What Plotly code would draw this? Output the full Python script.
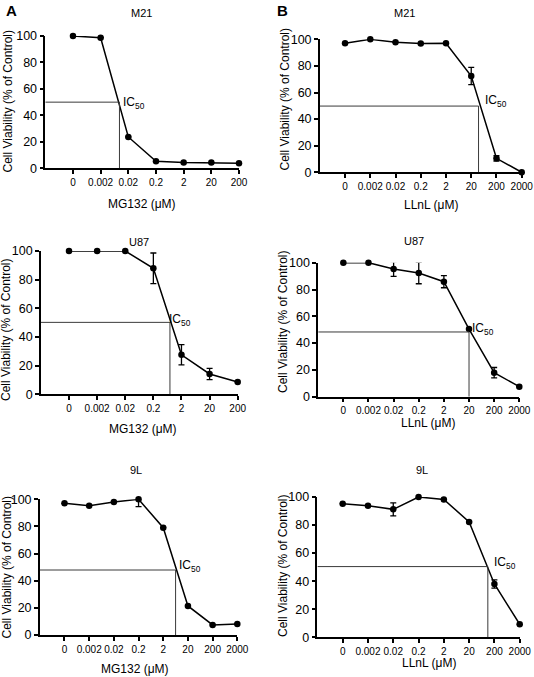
import plotly.graph_objects as go

W, H = 534, 677
FONT = "Arial, Liberation Sans, sans-serif"

# ---------------- data ----------------
mg_labels_7 = ["0", "0.002", "0.02", "0.2", "2", "20", "200"]
mg_labels_8 = ["0", "0.002", "0.02", "0.2", "2", "20", "200", "2000"]
ll_labels = ["0", "0.002", "0.02", "0.2", "2", "20", "200", "2000"]

# Panel A (MG132)
a_m21 = [100, 98.7, 23.7, 5.3, 4.3, 4.3, 3.8]
a_m21_err = [0, 0, 0, 0, 0, 0, 0]
a_u87 = [100, 100, 100, 87.9, 27.6, 14.2, 8.6]
a_u87_err = [0, 0, 0, 10.7, 7.0, 3.9, 0]
a_9l = [97, 95.3, 98, 100, 79.1, 21.4, 7.4, 8.1]
a_9l_err = [0, 0, 0, 5.4, 0, 0, 0, 0]

# Panel B (LLnL)
b_m21 = [97, 100, 97.7, 96.8, 97, 72.4, 10.5, 0]
b_m21_err = [0, 0, 0, 0, 0, 6.5, 2.0, 0]
b_u87 = [100, 100, 95.3, 92.3, 85.8, 50.5, 17.9, 7.5]
b_u87_err = [0, 0, 5.5, 8.0, 4.5, 0, 3.9, 0]
b_9l = [95.2, 93.8, 91.2, 100, 98.3, 82.2, 38.0, 9.3]
b_9l_err = [0, 0, 4.6, 0, 0, 0, 3.0, 0]

# IC50 guide positions (x in category-index units, y in % of control)
ic50_x = {"A1": 1.68, "A2": 3.59, "A3": 4.5, "B1": 5.29, "B2": 5.0, "B3": 5.74}
ic50_y = {"A1": 50.0, "A2": 50.2, "A3": 47.9, "B1": 49.8, "B2": 48.3, "B3": 50.4}

titles = {"A1": "M21", "A2": "U87", "A3": "9L", "B1": "M21", "B2": "U87", "B3": "9L"}
xtitles = {"A1": "MG132 (μM)", "A2": "MG132 (μM)", "A3": "MG132 (μM)",
           "B1": "LLnL (μM)", "B2": "LLnL (μM)", "B3": "LLnL (μM)"}
ytitle = "Cell Viability (% of Control)"

panels = {
    "A1": (a_m21, a_m21_err, mg_labels_7),
    "A2": (a_u87, a_u87_err, mg_labels_7),
    "A3": (a_9l, a_9l_err, mg_labels_8),
    "B1": (b_m21, b_m21_err, ll_labels),
    "B2": (b_u87, b_u87_err, ll_labels),
    "B3": (b_9l, b_9l_err, ll_labels),
}

# ---------------- layout geometry (pixels) ----------------
# x-left, x-right (of axis), y of 0, y of 100
geom = {
    "A1": (45.3, 239.0, 168.3, 36.0),
    "A2": (40.9, 237.7, 394.3, 251.0),
    "A3": (39.8, 237.3, 635.0, 499.3),
    "B1": (319.8, 521.7, 172.3, 39.3),
    "B2": (318.2, 519.3, 396.7, 262.7),
    "B3": (317.4, 519.7, 637.3, 497.0),
}
# text positions (pixels)
title_pos = {"A1": (141.5, 13.5), "A2": (138.5, 242), "A3": (136, 469.5),
             "B1": (404, 13.5), "B2": (414, 241.5), "B3": (422, 469.5)}
xtitle_pos = {"A1": (142, 204), "A2": (142.5, 429), "A3": (135, 669),
              "B1": (431, 205), "B2": (428, 423), "B3": (429.5, 662.5)}
ytitle_pos = {"A1": (8, 101.5), "A2": (6, 330), "A3": (6, 567.5),
              "B1": (285, 99.5), "B2": (283, 322), "B3": (283, 566)}
ic_pos = {"A1": (120.7, 102.5), "A2": (166.7, 320), "A3": (177.3, 565.5),
          "B1": (483, 100.5), "B2": (470, 329), "B3": (491.7, 563)}


def px(x):
    return x / W


def py(y):
    return 1 - y / H


fig = go.Figure()
annotations = []
shapes = []

for i, key in enumerate(["A1", "A2", "A3", "B1", "B2", "B3"]):
    n = i + 1
    xa = "x" if n == 1 else f"x{n}"
    ya = "y" if n == 1 else f"y{n}"
    vals, errs, labels = panels[key]
    xs = list(range(len(vals)))
    fig.add_trace(go.Scatter(
        x=xs, y=vals, xaxis=xa, yaxis=ya, mode="lines+markers",
        line=dict(color="black", width=1.5),
        marker=dict(color="black", size=6.5),
        error_y=dict(type="data", array=errs, visible=True,
                     color="black", thickness=1.3, width=3),
        cliponaxis=False, showlegend=False, hoverinfo="x+y",
    ))
    xl, xr, y0, y100 = geom[key]
    last = len(vals) - 1
    fig.update_layout(**{
        ("xaxis" if n == 1 else f"xaxis{n}"): dict(
            domain=[px(xl), px(xr)], range=[-1, last], anchor=ya,
            tickmode="array", tickvals=xs, ticktext=labels, tickangle=0,
            showline=True, linecolor="black", linewidth=1.5,
            ticks="outside", ticklen=4, tickwidth=1.5, tickcolor="black",
            showgrid=False, zeroline=False, automargin=False,
            tickfont=dict(family=FONT, size=10, color="black"),
        ),
        ("yaxis" if n == 1 else f"yaxis{n}"): dict(
            domain=[py(y0), py(y100)], range=[0, 100], anchor=xa,
            tickmode="linear", tick0=0, dtick=20,
            showline=True, linecolor="black", linewidth=1.5,
            ticks="outside", ticklen=4, tickwidth=1.5, tickcolor="black",
            showgrid=False, zeroline=False, automargin=False,
            tickfont=dict(family=FONT, size=12.5, color="black"),
        ),
    })
    # IC50 guide lines
    cx, cy = ic50_x[key], ic50_y[key]
    shapes.append(dict(type="line", xref=xa, yref=ya, x0=-1, x1=cx, y0=cy, y1=cy,
                       line=dict(color="#3a3a3a", width=1)))
    shapes.append(dict(type="line", xref=xa, yref=ya, x0=cx, x1=cx, y0=0, y1=cy,
                       line=dict(color="#3a3a3a", width=1)))
    # texts
    tx, ty = title_pos[key]
    annotations.append(dict(text=titles[key], x=px(tx), y=py(ty), xref="paper", yref="paper",
                            showarrow=False, xanchor="center", yanchor="middle",
                            font=dict(family=FONT, size=11, color="black")))
    tx, ty = xtitle_pos[key]
    annotations.append(dict(text=xtitles[key], x=px(tx), y=py(ty), xref="paper", yref="paper",
                            showarrow=False, xanchor="center", yanchor="middle",
                            font=dict(family=FONT, size=12, color="black")))
    tx, ty = ytitle_pos[key]
    annotations.append(dict(text=ytitle, x=px(tx), y=py(ty), xref="paper", yref="paper",
                            showarrow=False, xanchor="center", yanchor="middle", textangle=-90,
                            font=dict(family=FONT, size=12, color="black")))
    tx, ty = ic_pos[key]
    annotations.append(dict(text="IC<sub>50</sub>", x=px(tx), y=py(ty), xref="paper", yref="paper",
                            showarrow=False, xanchor="left", yanchor="middle",
                            font=dict(family=FONT, size=12, color="black")))

annotations.append(dict(text="<b>A</b>", x=px(11.5), y=py(10), xref="paper", yref="paper",
                        showarrow=False, xanchor="center", yanchor="middle",
                        font=dict(family=FONT, size=15, color="black")))
annotations.append(dict(text="<b>B</b>", x=px(282.5), y=py(10), xref="paper", yref="paper",
                        showarrow=False, xanchor="center", yanchor="middle",
                        font=dict(family=FONT, size=15, color="black")))

fig.update_layout(
    width=W, height=H, margin=dict(l=0, r=0, t=0, b=0),
    paper_bgcolor="white", plot_bgcolor="white",
    annotations=annotations, shapes=shapes, showlegend=False,
)

fig.write_html("out.html", config={"displayModeBar": False},
               post_script="document.body.style.margin='0px';document.body.style.overflow='hidden';")
